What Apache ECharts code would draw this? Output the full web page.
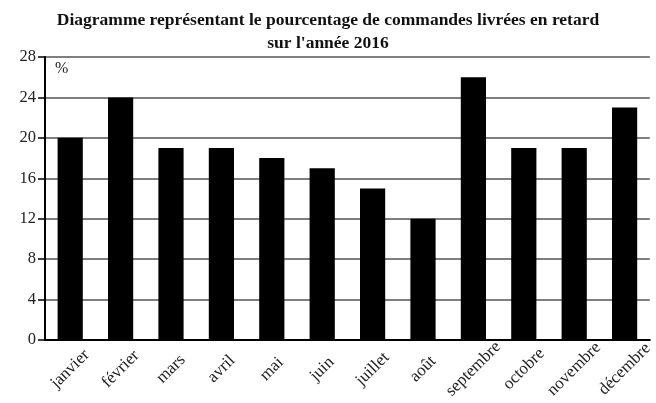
<!DOCTYPE html>
<html><head><meta charset="utf-8">
<script src="https://cdn.jsdelivr.net/npm/echarts@6/dist/echarts.min.js"></script>
<style>html,body{margin:0;padding:0;background:#fff}#c{width:656px;height:403px}</style>
</head><body><div id="c"></div>
<script>
const months = ['janvier','février','mars','avril','mai','juin','juillet','août','septembre','octobre','novembre','décembre'];
const values = [20,24,19,19,18,17,15,12,26,19,19,23];
const titleLines = ['Diagramme représentant le pourcentage de commandes livrées en retard','sur l\'année 2016'];
const unitLabel = '%';
const FONT = '"Liberation Serif", "DejaVu Serif", serif';
const chart = echarts.init(document.getElementById('c'));
chart.setOption({
  animation:false,
  title:{text:titleLines.join('\n'),left:'center',top:4,
    textStyle:{fontFamily:FONT,fontWeight:'bold',fontSize:17.5,lineHeight:23,color:'#111'}},
  grid:{left:45,right:4,top:57,bottom:63,containLabel:false},
  xAxis:{type:'category',data:months,
    axisLine:{lineStyle:{color:'#000',width:2}},
    axisTick:{show:false},
    axisLabel:{rotate:45,align:'center',verticalAlign:'middle',margin:29,interval:0,
      fontFamily:FONT,fontSize:17,color:'#222'}},
  yAxis:{type:'value',min:0,max:28,interval:4,
    name:unitLabel,nameLocation:'end',nameGap:-20,
    nameTextStyle:{fontFamily:FONT,fontSize:16,color:'#222',align:'left',padding:[0,0,0,10]},
    axisLine:{show:true,lineStyle:{color:'#000',width:2}},
    axisTick:{show:true,length:7,lineStyle:{color:'#000',width:1.5}},
    axisLabel:{margin:9,fontFamily:FONT,fontSize:16.5,color:'#222'},
    splitLine:{lineStyle:{color:'#555',width:1.5}}},
  series:[{type:'bar',data:values,barWidth:'50%',itemStyle:{color:'#000'}}]
});
</script></body></html>
